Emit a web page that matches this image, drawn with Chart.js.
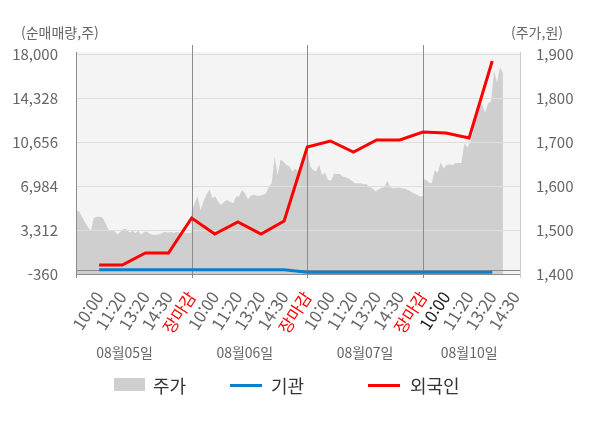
<!DOCTYPE html>
<html lang="ko">
<head>
<meta charset="utf-8">
<title>외국인·기관 순매매량과 주가</title>
<script src="https://cdn.jsdelivr.net/npm/chart.js@4.4.1/dist/chart.umd.min.js"></script>
<style>
  html, body { margin: 0; padding: 0; background: #fff; }
  body { width: 600px; height: 428px; position: relative; overflow: hidden;
         font-family: "Noto Sans CJK KR", "Noto Sans", sans-serif; }
  #wrap { position: absolute; left: 0; top: 0; width: 600px; height: 428px; }
  .lg { position: absolute; }
  .lg-text { top: 375px; font-size: 18px; line-height: 20px; color: #333; }
  .lg-box { top: 378px; width: 31px; height: 13px; background: #cfcfcf; }
  .lg-line { top: 384px; width: 32px; height: 3px; }
</style>
</head>
<body>
<div id="wrap"><canvas id="chart" width="600" height="428"></canvas></div>

<div class="lg lg-box" style="left:114px"></div>
<div class="lg lg-text" style="left:153px">주가</div>
<div class="lg lg-line" style="left:230px;background:#0a7fd0"></div>
<div class="lg lg-text" style="left:271px">기관</div>
<div class="lg lg-line" style="left:368px;background:#ff0000"></div>
<div class="lg lg-text" style="left:410px">외국인</div>

<script>
/* =========================
   DATA
   ========================= */

const tickLabels = [
  "10:00", "11:20", "13:20", "14:30", "장마감",
  "10:00", "11:20", "13:20", "14:30", "장마감",
  "10:00", "11:20", "13:20", "14:30", "장마감",
  "10:00", "11:20", "13:20", "14:30"
];
const dayLabels = ["08월05일", "08월06일", "08월07일", "08월10일"];
const leftTicks = [-360, 3312, 6984, 10656, 14328, 18000];
const rightTicks = [1400, 1500, 1600, 1700, 1800, 1900];

/* cumulative net buying (shares), one value per time label */
const foreignNet = [390, 390, 1390, 1390, 4310, 2980, 3980, 2980, 4060,
                    10240, 10740, 9820, 10820, 10820, 11490, 11410, 10990, 17420];
const instNet = [0, 0, 0, 0, 0, 0, 0, 0, 0,
                 -220, -220, -220, -220, -220, -220, -220, -220, -220];

/* share price (won), 10-minute samples from 09:00 */
const price0805 = [1543, 1543, 1530, 1518, 1507, 1497, 1527, 1530, 1530, 1528,
                   1515, 1500, 1498, 1498, 1490, 1496, 1502, 1502, 1494, 1498,
                   1493, 1498, 1489, 1496, 1496, 1491, 1489, 1489, 1490, 1493,
                   1496, 1494, 1496, 1493, 1496, 1493, 1496, 1493, 1494, 1494];
const price0806 = [1541, 1560, 1577, 1545, 1564, 1580, 1592, 1573, 1576, 1564,
                   1557, 1564, 1568, 1564, 1561, 1576, 1576, 1591, 1583, 1570,
                   1578, 1580, 1578, 1578, 1580, 1583, 1598, 1606, 1667, 1625,
                   1660, 1655, 1648, 1645, 1633, 1640, 1633, 1659, 1670, 1686];
const price0807 = [1686, 1645, 1636, 1633, 1649, 1625, 1630, 1614, 1612, 1628,
                   1627, 1627, 1621, 1620, 1617, 1612, 1606, 1606, 1606, 1604,
                   1604, 1598, 1595, 1588, 1592, 1596, 1597, 1612, 1597, 1595,
                   1596, 1596, 1595, 1594, 1591, 1587, 1583, 1580, 1576, 1578];
const price0810 = [1614, 1615, 1608, 1606, 1636, 1630, 1654, 1640, 1648, 1649,
                   1648, 1652, 1652, 1652, 1697, 1688, 1700, 1725, 1775, 1792,
                   1784, 1767, 1788, 1792, 1862, 1835, 1870, 1856];

/* =========================
   BUILD SERIES
   ========================= */

const SLOTS_PER_DAY = 5;      // label slots per trading day
const STEPS_PER_DAY = 39;     // 10-minute steps, 09:00 - 15:30
const X_MAX = 19.2;

const pricePoints = [];
[price0805, price0806, price0807, price0810].forEach((day, d) => {
  day.forEach((v, i) => pricePoints.push({ x: d * SLOTS_PER_DAY + i * SLOTS_PER_DAY / STEPS_PER_DAY, y: v }));
});
const foreignPoints = foreignNet.map((v, i) => ({ x: i + 1, y: v }));
const instPoints = instNet.map((v, i) => ({ x: i + 1, y: v }));

const todayIndex = tickLabels.lastIndexOf("장마감") + 1;
const dateCenters = [2.1, 7.3, 12.5, 17.0];   // label centres, in slot units

function tickColor(ctx) {
  if (tickLabels[ctx.index] === "장마감") return "#ff0000";
  if (ctx.index === todayIndex) return "#222";
  return "#666";
}

/* =========================
   FRAME PLUGIN
   ========================= */

function hLine(ctx, x1, x2, y) {
  ctx.beginPath(); ctx.moveTo(x1, y); ctx.lineTo(x2, y); ctx.stroke();
}
function vLine(ctx, x, y1, y2) {
  ctx.beginPath(); ctx.moveTo(x, y1); ctx.lineTo(x, y2); ctx.stroke();
}

const frame = {
  id: "frame",
  beforeDraw(chart) {
    const { ctx, chartArea: a } = chart;
    ctx.save();
    ctx.fillStyle = "#f4f4f4";
    ctx.fillRect(a.left, a.top - 2, a.right - a.left, a.bottom - a.top + 2);
    ctx.restore();
  },
  afterDatasetDraw(chart, args) {
    if (args.index !== 0) return;
    const { ctx, chartArea: a, scales } = chart;
    const px = v => Math.round(v) + 0.5;
    ctx.save();
    ctx.lineWidth = 1;

    ctx.strokeStyle = "#dddddd";
    scales.y.ticks.forEach(t => {
      if (t.value === leftTicks[0]) return;
      hLine(ctx, a.left, a.right, px(scales.y.getPixelForValue(t.value)));
    });

    ctx.strokeStyle = "#8c8c8c";
    hLine(ctx, a.left, a.right, px(scales.y.getPixelForValue(0)));
    hLine(ctx, a.left, a.right, px(a.bottom));
    for (let d = 1; d < dayLabels.length; d++) {
      vLine(ctx, px(scales.x.getPixelForValue(d * SLOTS_PER_DAY)), a.top - 9, a.bottom + 4);
    }
    vLine(ctx, px(a.left), a.top - 2, a.bottom + 4);

    ctx.strokeStyle = "#cccccc";
    vLine(ctx, px(a.right), a.top - 2, a.bottom + 4);
    ctx.restore();
  },
  afterDraw(chart) {
    const { ctx, scales } = chart;
    ctx.save();
    ctx.fillStyle = "#666";
    ctx.textBaseline = "middle";
    ctx.font = '14px "Noto Sans CJK KR", "Noto Sans", sans-serif';
    ctx.textAlign = "left";
    ctx.fillText("(순매매량,주)", 21, 33);
    ctx.textAlign = "right";
    ctx.fillText("(주가,원)", 563, 33);
    ctx.textAlign = "center";
    dayLabels.forEach((t, i) => ctx.fillText(t, scales.x.getPixelForValue(dateCenters[i]), 353));
    ctx.restore();
  }
};

/* =========================
   CHART
   ========================= */

Chart.defaults.font.family = '"Noto Sans CJK KR", "Noto Sans", sans-serif';

new Chart(document.getElementById("chart"), {
  type: "line",
  data: {
    datasets: [
      { label: "주가", data: pricePoints, yAxisID: "y1", fill: "start",
        backgroundColor: "#cfcfcf", borderWidth: 0, pointRadius: 0, order: 3 },
      { label: "기관", data: instPoints, yAxisID: "y", borderColor: "#0a7fd0",
        borderWidth: 3, pointRadius: 0, fill: false, order: 2 },
      { label: "외국인", data: foreignPoints, yAxisID: "y", borderColor: "#ff0000",
        borderWidth: 3, pointRadius: 0, fill: false, order: 1 }
    ]
  },
  options: {
    responsive: false,
    animation: false,
    events: [],
    layout: { padding: { top: 54, left: 0, right: 0, bottom: 0 } },
    plugins: { legend: { display: false }, tooltip: { enabled: false } },
    scales: {
      x: {
        type: "linear", min: 0, max: X_MAX,
        grid: { display: false },
        border: { display: false },
        afterBuildTicks: s => { s.ticks = tickLabels.map((_, i) => ({ value: i + 1 })); },
        afterFit: s => { s.height = 154; },
        ticks: {
          autoSkip: false, minRotation: 57, maxRotation: 57, padding: 6,
          font: { size: 16.5 }, color: tickColor,
          callback: (v, i) => tickLabels[i]
        }
      },
      y: {
        position: "left", min: leftTicks[0], max: leftTicks[leftTicks.length - 1],
        grid: { display: false }, border: { display: false },
        afterBuildTicks: s => { s.ticks = leftTicks.map(v => ({ value: v })); },
        afterFit: s => { s.width = 76; },
        ticks: { padding: 10, color: "#666", font: { size: 15 },
                 callback: v => v.toLocaleString("en-US") }
      },
      y1: {
        position: "right", min: rightTicks[0], max: rightTicks[rightTicks.length - 1],
        grid: { display: false }, border: { display: false },
        afterBuildTicks: s => { s.ticks = rightTicks.map(v => ({ value: v })); },
        afterFit: s => { s.width = 80; },
        ticks: { padding: 8, color: "#666", font: { size: 15 },
                 callback: v => v.toLocaleString("en-US") }
      }
    }
  },
  plugins: [frame]
});
</script>
</body>
</html>
